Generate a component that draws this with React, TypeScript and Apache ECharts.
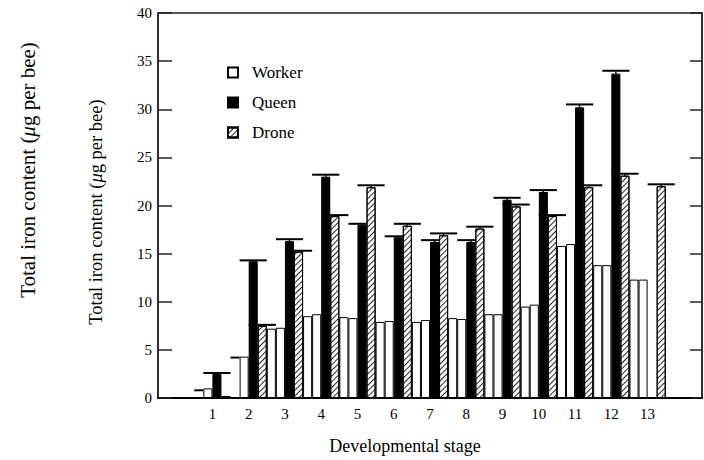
import React, { useEffect, useRef } from 'react';
import * as echarts from 'echarts';

const stageLabels = ['1', '2', '3', '4', '5', '6', '7', '8', '9', '10', '11', '12', '13'];
const workerA: (number | null)[] = [null, null, 7.2, 8.5, 8.4, 7.9, 7.9, 8.3, 8.7, 9.5, 15.8, 13.8, 12.3];
const workerCap: (number | null)[] = [0.8, 4.2, null, null, null, null, null, null, null, null, null, null, null];
const workerB: (number | null)[] = [1.0, 4.3, 7.3, 8.7, 8.3, 8.0, 8.1, 8.2, 8.7, 9.7, 16.0, 13.8, 12.3];
const queen: (number | null)[] = [2.5, 14.2, 16.3, 23.0, 18.0, 16.7, 16.2, 16.2, 20.6, 21.4, 30.2, 33.7, null];
const queenTop: (number | null)[] = [2.6, 14.3, 16.5, 23.2, 18.1, 16.8, 16.4, 16.4, 20.8, 21.6, 30.5, 34.0, null];
const drone: (number | null)[] = [0.2, 7.5, 15.2, 18.9, 21.9, 17.9, 16.9, 17.6, 19.9, 18.9, 21.9, 23.1, 22.0];
const droneTop: (number | null)[] = [null, 7.6, 15.3, 19.0, 22.1, 18.1, 17.1, 17.8, 20.1, 19.0, 22.1, 23.3, 22.2];

const yMin = 0;
const yMax = 40;
const yInterval = 5;

const FONT = 'Liberation Serif';

export default function App() {
  const ref = useRef<HTMLDivElement>(null);
  useEffect(() => {
    const chart = echarts.init(ref.current!, null, { renderer: 'svg' });
    const pad = (a: (number | null)[]) => [null, ...a, null];
    const cats = ['', ...stageLabels, ''];
    const errData: number[][] = [];
    stageLabels.forEach((_, i) => {
      const x = i + 1;
      const wc = workerCap[i];
      if (wc != null) errData.push([x, wc, wc, 0, 0.5]);
      const q = queen[i], qt = queenTop[i];
      if (q != null && qt != null) errData.push([x, q, qt, 2, 1.5]);
      const d = drone[i], dt = droneTop[i];
      if (d != null && dt != null) errData.push([x, d, dt, 3, 1.5]);
    });

    const hatch = {
      symbol: 'rect',
      symbolSize: 1,
      color: 'rgba(0,0,0,0.85)',
      dashArrayX: [1, 0],
      dashArrayY: [1, 3],
      rotation: -Math.PI / 4,
    };

    chart.setOption({
      animation: false,
      backgroundColor: '#fff',
      grid: {
        left: 158,
        right: 2,
        top: 13,
        bottom: 62,
        show: true,
        borderColor: '#222',
        borderWidth: 1.5,
        containLabel: false,
      },
      legend: {
        data: ['Worker', 'Queen', 'Drone'],
        orient: 'vertical',
        left: 222,
        top: 59,
        icon: 'rect',
        itemWidth: 10,
        itemHeight: 10,
        itemGap: 13,
        selectedMode: false,
        textStyle: {
          fontFamily: FONT,
          fontSize: 17,
          color: '#000',
          lineHeight: 17,
          padding: [0, 0, 0, 9],
        },
      },
      xAxis: {
        type: 'category',
        data: cats,
        axisLine: { show: true, lineStyle: { color: '#000', width: 2 } },
        axisTick: { show: false },
        axisLabel: {
          interval: 0,
          margin: 8,
          fontFamily: FONT,
          fontSize: 15,
          color: '#000',
        },
        splitLine: { show: false },
      },
      yAxis: [
        {
          type: 'value',
          min: yMin,
          max: yMax,
          interval: yInterval,
          axisLine: { show: true, lineStyle: { color: '#222', width: 1.5 } },
          axisTick: { show: true, inside: true, length: 14, lineStyle: { color: '#222', width: 1.5 } },
          axisLabel: { margin: 6, fontFamily: FONT, fontSize: 15, color: '#000' },
          splitLine: { show: false },
        },
        {
          type: 'value',
          min: yMin,
          max: yMax,
          interval: yInterval,
          position: 'right',
          axisLine: { show: true, lineStyle: { color: '#222', width: 1.5 } },
          axisTick: { show: true, inside: true, length: 12, lineStyle: { color: '#222', width: 1.5 } },
          axisLabel: { show: false },
          splitLine: { show: false },
        },
      ],
      series: [
        {
          type: 'custom',
          name: 'err',
          z: 1,
          data: errData,
          encode: { x: 0, y: [1, 2] },
          renderItem: (params: any, api: any) => {
            const x = api.value(0);
            const mean = api.value(1);
            const top = api.value(2);
            const slot = api.value(3);
            const halfW = api.value(4);
            const pt = api.coord([x, top]);
            const pm = api.coord([x, mean]);
            const bw = api.size([1, 0])[0] / 4;
            const cx = pt[0] + (slot - 1.5) * bw;
            const children: any[] = [];
            if (top > mean) {
              children.push({
                type: 'line',
                shape: { x1: cx, y1: pm[1], x2: cx, y2: pt[1] },
                style: { stroke: '#000', lineWidth: 1.5 },
              });
            }
            children.push({
              type: 'line',
              shape: { x1: cx - halfW * bw, y1: pt[1], x2: cx + halfW * bw, y2: pt[1] },
              style: { stroke: '#000', lineWidth: 2 },
            });
            return { type: 'group', children };
          },
        },
        {
          type: 'bar',
          name: 'Worker',
          z: 2,
          data: pad(workerA),
          itemStyle: { color: '#fff', borderColor: '#000', borderWidth: 1 },
        },
        {
          type: 'bar',
          name: 'Worker',
          z: 2,
          data: pad(workerB),
          itemStyle: { color: '#fff', borderColor: '#000', borderWidth: 1 },
        },
        {
          type: 'bar',
          name: 'Queen',
          z: 2,
          data: pad(queen),
          itemStyle: { color: '#000', borderColor: '#000', borderWidth: 1 },
        },
        {
          type: 'bar',
          name: 'Drone',
          z: 2,
          data: pad(drone),
          barGap: '0%',
          barCategoryGap: '0%',
          itemStyle: { color: '#fff', borderColor: '#000', borderWidth: 1, decal: hatch },
        },
      ],
      graphic: [
        {
          type: 'text',
          x: 28,
          y: 170,
          rotation: Math.PI / 2,
          style: {
            text: '{n|Total iron content (}{i|μ}{n|g per bee)}',
            align: 'center',
            verticalAlign: 'middle',
            rich: {
              n: { fontFamily: FONT, fontSize: 21, fill: '#000' },
              i: { fontFamily: FONT, fontSize: 21, fontStyle: 'italic', fill: '#000' },
            },
          },
        },
        {
          type: 'text',
          x: 96,
          y: 212,
          rotation: Math.PI / 2,
          style: {
            text: '{n|Total iron content (}{i|μ}{n|g per bee)}',
            align: 'center',
            verticalAlign: 'middle',
            rich: {
              n: { fontFamily: FONT, fontSize: 18.5, fill: '#000' },
              i: { fontFamily: FONT, fontSize: 18.5, fontStyle: 'italic', fill: '#000' },
            },
          },
        },
        {
          type: 'text',
          x: 405,
          y: 446,
          style: {
            text: 'Developmental stage',
            align: 'center',
            verticalAlign: 'middle',
            fontFamily: FONT,
            fontSize: 18,
            fill: '#000',
          },
        },
      ],
    });
    return () => chart.dispose();
  }, []);
  return (
    <div
      ref={ref}
      style={{ position: 'absolute', left: 0, top: 0, width: 704, height: 460 }}
    />
  );
}
